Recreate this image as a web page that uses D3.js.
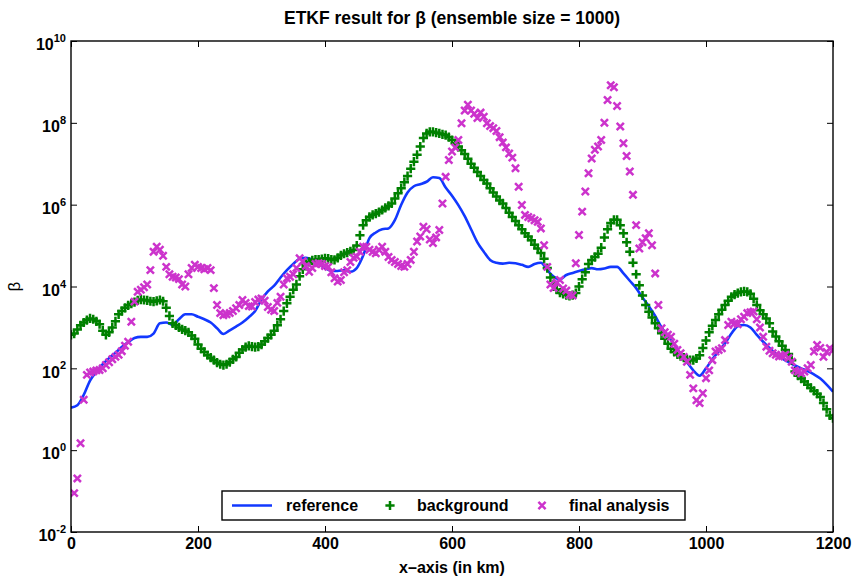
<!DOCTYPE html>
<html><head><meta charset="utf-8">
<script src="https://cdn.jsdelivr.net/npm/d3@7"></script>
<style>
body{margin:0;background:#fff}
text{font-family:"Liberation Sans",Arial,Helvetica,sans-serif}
</style>
</head><body>
<svg id="chart" width="853" height="578"></svg>
<script>
// ---------------- data (log10 of beta) ----------------
const titleText = "ETKF result for \u03b2 (ensemble size = 1000)";
const xLabelText = "x\u2013axis (in km)";
const yLabelText = "\u03b2";
const xTicks = [0, 200, 400, 600, 800, 1000, 1200];
const yTickExponents = [-2, 0, 2, 4, 6, 8, 10];
const seriesNames = ["reference", "background", "final analysis"];

// reference: every 10 km, 0..1200
const referenceKm = d3.range(0, 1201, 10);
const referenceLog10 = [
 1.04,1.10,1.35,1.70,1.92,2.10,2.25,2.38,2.52,2.64,
 2.74,2.77,2.77,2.85,3.10,3.12,3.06,3.20,3.32,3.32,
 3.26,3.20,3.12,2.98,2.84,2.93,3.02,3.12,3.25,3.40,
 3.68,3.88,4.02,4.22,4.40,4.55,4.68,4.70,4.65,4.55,
 4.45,4.38,4.38,4.40,4.36,4.45,4.75,5.18,5.32,5.40,
 5.42,5.62,6.00,6.30,6.45,6.50,6.56,6.67,6.65,6.42,
 6.22,5.99,5.72,5.40,5.08,4.85,4.65,4.58,4.56,4.58,
 4.57,4.53,4.48,4.55,4.58,4.40,4.24,4.18,4.28,4.33,
 4.38,4.42,4.45,4.42,4.44,4.48,4.48,4.32,4.14,3.96,
 3.73,3.52,3.28,3.00,2.80,2.58,2.36,2.15,1.95,1.82,
 2.00,2.22,2.42,2.61,2.85,3.03,3.06,3.00,2.82,2.65,
 2.50,2.35,2.24,2.15,2.07,2.00,1.93,1.85,1.75,1.60,
 1.43
];

// background and final analysis: every 5 km, 0..1200
const sampleKm = d3.range(0, 1201, 5);
const backgroundLog10 = [
 2.82,2.85,2.95,3.05,3.12,3.18,3.22,3.20,3.15,3.08,
 2.92,2.82,2.88,3.00,3.15,3.32,3.40,3.48,3.54,3.58,
 3.62,3.66,3.68,3.67,3.66,3.64,3.63,3.65,3.67,3.64,
 3.48,3.28,3.10,3.05,3.00,2.95,2.92,2.88,2.80,2.72,
 2.58,2.48,2.40,2.32,2.26,2.20,2.14,2.10,2.08,2.10,
 2.15,2.22,2.28,2.38,2.46,2.52,2.55,2.53,2.52,2.53,
 2.58,2.66,2.74,2.82,2.92,3.05,3.20,3.40,3.59,3.75,
 3.92,4.05,4.25,4.42,4.55,4.60,4.64,4.66,4.66,4.67,
 4.69,4.68,4.66,4.65,4.70,4.76,4.80,4.83,4.86,4.89,
 5.00,5.25,5.50,5.62,5.70,5.75,5.78,5.82,5.87,5.92,
 5.97,6.03,6.15,6.28,6.40,6.55,6.70,6.88,7.05,7.22,
 7.42,7.63,7.74,7.78,7.78,7.76,7.74,7.72,7.70,7.65,
 7.58,7.50,7.42,7.33,7.24,7.12,7.00,6.90,6.80,6.70,
 6.60,6.52,6.40,6.30,6.20,6.10,6.03,5.92,5.80,5.70,
 5.60,5.50,5.40,5.30,5.22,5.13,5.02,4.93,4.82,4.68,
 4.45,4.22,4.05,3.92,3.85,3.82,3.79,3.77,3.79,3.84,
 4.00,4.18,4.35,4.55,4.65,4.72,4.80,4.95,5.20,5.40,
 5.55,5.63,5.63,5.50,5.30,5.08,4.85,4.58,4.30,4.03,
 3.78,3.55,3.38,3.24,3.10,2.98,2.86,2.72,2.60,2.48,
 2.40,2.34,2.30,2.26,2.22,2.20,2.20,2.24,2.32,2.50,
 2.68,2.88,3.04,3.18,3.32,3.43,3.55,3.65,3.75,3.80,
 3.84,3.87,3.88,3.87,3.82,3.70,3.55,3.42,3.32,3.22,
 3.10,2.90,2.78,2.66,2.55,2.45,2.35,2.20,1.92,1.82,
 1.75,1.68,1.60,1.52,1.45,1.38,1.30,1.15,1.00,0.85,
 0.78
];
const analysisLog10 = [
 null,-1.05,-0.69,0.17,1.23,1.84,1.90,1.92,1.95,1.96,
 2.00,2.08,2.15,2.22,2.28,2.33,2.42,2.55,2.65,3.14,
 3.63,3.87,3.92,3.98,4.05,4.40,4.85,4.97,4.90,4.75,
 4.48,4.30,4.24,4.22,4.18,4.05,4.00,4.30,4.45,4.53,
 4.48,4.45,4.42,4.45,4.40,3.96,3.55,3.35,3.30,3.32,
 3.35,3.40,3.47,3.55,3.67,3.60,3.52,3.51,3.62,3.68,
 3.71,3.65,3.50,3.43,3.40,3.60,3.75,4.05,4.20,4.24,
 4.30,4.45,4.69,4.62,4.50,4.36,4.45,4.55,4.57,4.55,
 4.50,4.48,4.35,4.20,4.12,4.16,4.35,4.40,4.60,4.70,
 4.73,4.85,4.97,4.97,4.90,4.85,4.81,4.90,4.97,4.85,
 4.72,4.65,4.60,4.55,4.50,4.48,4.55,4.65,4.85,5.10,
 5.22,5.46,5.40,5.15,5.06,5.20,5.38,6.03,6.68,7.09,
 7.30,7.40,7.58,7.99,8.30,8.44,8.30,8.22,8.12,8.25,
 8.15,7.99,7.92,7.87,7.80,7.65,7.52,7.40,7.25,7.15,
 6.89,6.44,5.99,5.75,5.70,5.67,5.62,5.58,5.42,5.01,
 4.48,4.05,3.96,4.10,4.16,3.95,3.90,3.80,3.78,4.57,
 5.26,5.83,6.32,6.77,7.13,7.34,7.42,7.58,8.00,8.56,
 8.92,8.87,8.41,7.91,7.50,7.19,6.81,6.24,5.50,4.93,
 5.08,5.18,5.30,5.01,4.32,3.55,2.98,2.88,2.82,2.77,
 2.60,2.45,2.37,2.28,2.16,1.84,1.51,1.22,1.15,1.39,
 1.76,1.95,2.20,2.41,2.45,2.49,2.69,3.06,3.14,3.10,
 3.08,3.20,3.26,3.35,3.37,3.39,3.20,3.00,2.77,2.53,
 2.43,2.37,2.33,2.29,2.30,2.33,2.25,2.16,1.95,1.92,
 1.88,1.92,2.00,2.08,2.41,2.57,2.50,2.28,2.40,2.49,
 2.45
];

// ---------------- drawing ----------------
const colors = {reference: "#1238ff", background: "#008000", analysis: "#cc33cc"};
const plot = {left: 71, right: 833, top: 41, bottom: 532};
const svg = d3.select("#chart");

const x = d3.scaleLinear().domain([0, 1200]).range([plot.left, plot.right]);
const y = d3.scaleLog().domain([1e-2, 1e10]).range([plot.bottom, plot.top]);

const refData = referenceKm.map((k, i) => ({x: k, v: Math.pow(10, referenceLog10[i])}));
const bgData = sampleKm.map((k, i) => ({x: k, v: Math.pow(10, backgroundLog10[i])}));
const anData = sampleKm.map((k, i) => ({x: k, e: analysisLog10[i]}))
  .filter(d => d.e !== null).map(d => ({x: d.x, v: Math.pow(10, d.e)}));

const plusPath = "M-4.6,0H4.6M0,-4.6V4.6";
const crossPath = "M-3.6,-3.6L3.6,3.6M-3.6,3.6L3.6,-3.6";
const mkWidth = 2.5;

const g = svg.append("g");
g.append("clipPath").attr("id", "clip").append("rect")
  .attr("x", plot.left).attr("y", plot.top)
  .attr("width", plot.right - plot.left).attr("height", plot.bottom - plot.top);
const inner = g.append("g").attr("clip-path", "url(#clip)");

// reference line
inner.append("path").datum(refData)
  .attr("fill", "none").attr("stroke", colors.reference).attr("stroke-width", 2.6)
  .attr("stroke-linejoin", "round")
  .attr("d", d3.line().x(d => x(d.x)).y(d => y(d.v)).curve(d3.curveMonotoneX));

// background markers
inner.append("g").selectAll("path").data(bgData).join("path")
  .attr("transform", d => `translate(${x(d.x)},${y(d.v)})`)
  .attr("d", plusPath).attr("stroke", colors.background).attr("stroke-width", mkWidth).attr("fill", "none");

// analysis markers
inner.append("g").selectAll("path").data(anData).join("path")
  .attr("transform", d => `translate(${x(d.x)},${y(d.v)})`)
  .attr("d", crossPath).attr("stroke", colors.analysis).attr("stroke-width", mkWidth).attr("fill", "none");

// frame
g.append("rect").attr("x", plot.left).attr("y", plot.top)
  .attr("width", plot.right - plot.left).attr("height", plot.bottom - plot.top)
  .attr("fill", "none").attr("stroke", "#000").attr("stroke-width", 1.4);

const yTickVals = yTickExponents.map(e => Math.pow(10, e));
function styleAxis(sel) {
  sel.select(".domain").remove();
  sel.selectAll(".tick line").attr("stroke", "#000").attr("stroke-width", 1);
}
// bottom
const axB = g.append("g").attr("transform", `translate(0,${plot.bottom})`)
  .call(d3.axisBottom(x).tickValues(xTicks).tickSizeInner(-6).tickSizeOuter(0).tickPadding(6).tickFormat(d3.format("d")));
styleAxis(axB);
axB.selectAll("text").attr("font-size", 16).attr("font-weight", "bold").attr("fill", "#000")
  .attr("font-family", '"Liberation Sans",Arial,sans-serif');
// top
const axT = g.append("g").attr("transform", `translate(0,${plot.top})`)
  .call(d3.axisTop(x).tickValues(xTicks).tickSizeInner(-6).tickSizeOuter(0).tickFormat(""));
styleAxis(axT);
// left
const axL = g.append("g").attr("transform", `translate(${plot.left},0)`)
  .call(d3.axisLeft(y).tickValues(yTickVals).tickSizeInner(-6).tickSizeOuter(0).tickPadding(5).tickFormat(() => ""));
styleAxis(axL);
axL.selectAll(".tick text").each(function(d) {
  const t = d3.select(this).attr("font-size", 16).attr("font-weight", "bold").attr("fill", "#000")
    .attr("font-family", '"Liberation Sans",Arial,sans-serif').attr("dy", "0.55em");
  t.text("10");
  t.append("tspan").attr("dy", "-0.75em").attr("font-size", 11).text(Math.round(Math.log10(d)));
});
// right
const axR = g.append("g").attr("transform", `translate(${plot.right},0)`)
  .call(d3.axisRight(y).tickValues(yTickVals).tickSizeInner(-6).tickSizeOuter(0).tickFormat(""));
styleAxis(axR);

// title & labels
svg.append("text").attr("x", 452).attr("y", 24)
  .attr("text-anchor", "middle").attr("font-size", 17.5).attr("font-weight", "bold").text(titleText);
svg.append("text").attr("x", 452).attr("y", 573)
  .attr("text-anchor", "middle").attr("font-size", 16).attr("font-weight", "bold").text(xLabelText);
svg.append("text").attr("transform", `translate(20,${(plot.top + plot.bottom) / 2}) rotate(-90)`)
  .attr("text-anchor", "middle").attr("font-size", 17).text(yLabelText);

// legend
const lg = svg.append("g");
lg.append("rect").attr("x", 222).attr("y", 491).attr("width", 463).attr("height", 29)
  .attr("fill", "#fff").attr("stroke", "#000").attr("stroke-width", 1.4);
const ly = 505.5;
lg.append("line").attr("x1", 232).attr("x2", 272).attr("y1", ly).attr("y2", ly)
  .attr("stroke", colors.reference).attr("stroke-width", 2.6);
lg.append("text").attr("x", 286).attr("y", ly + 5.5).attr("font-size", 16).attr("font-weight", "bold").text(seriesNames[0]);
lg.append("path").attr("transform", `translate(390,${ly})`).attr("d", plusPath)
  .attr("stroke", colors.background).attr("stroke-width", mkWidth);
lg.append("text").attr("x", 417).attr("y", ly + 5.5).attr("font-size", 16).attr("font-weight", "bold").text(seriesNames[1]);
lg.append("path").attr("transform", `translate(542,${ly})`).attr("d", crossPath)
  .attr("stroke", colors.analysis).attr("stroke-width", mkWidth);
lg.append("text").attr("x", 569).attr("y", ly + 5.5).attr("font-size", 16).attr("font-weight", "bold").text(seriesNames[2]);
</script>
</body></html>
